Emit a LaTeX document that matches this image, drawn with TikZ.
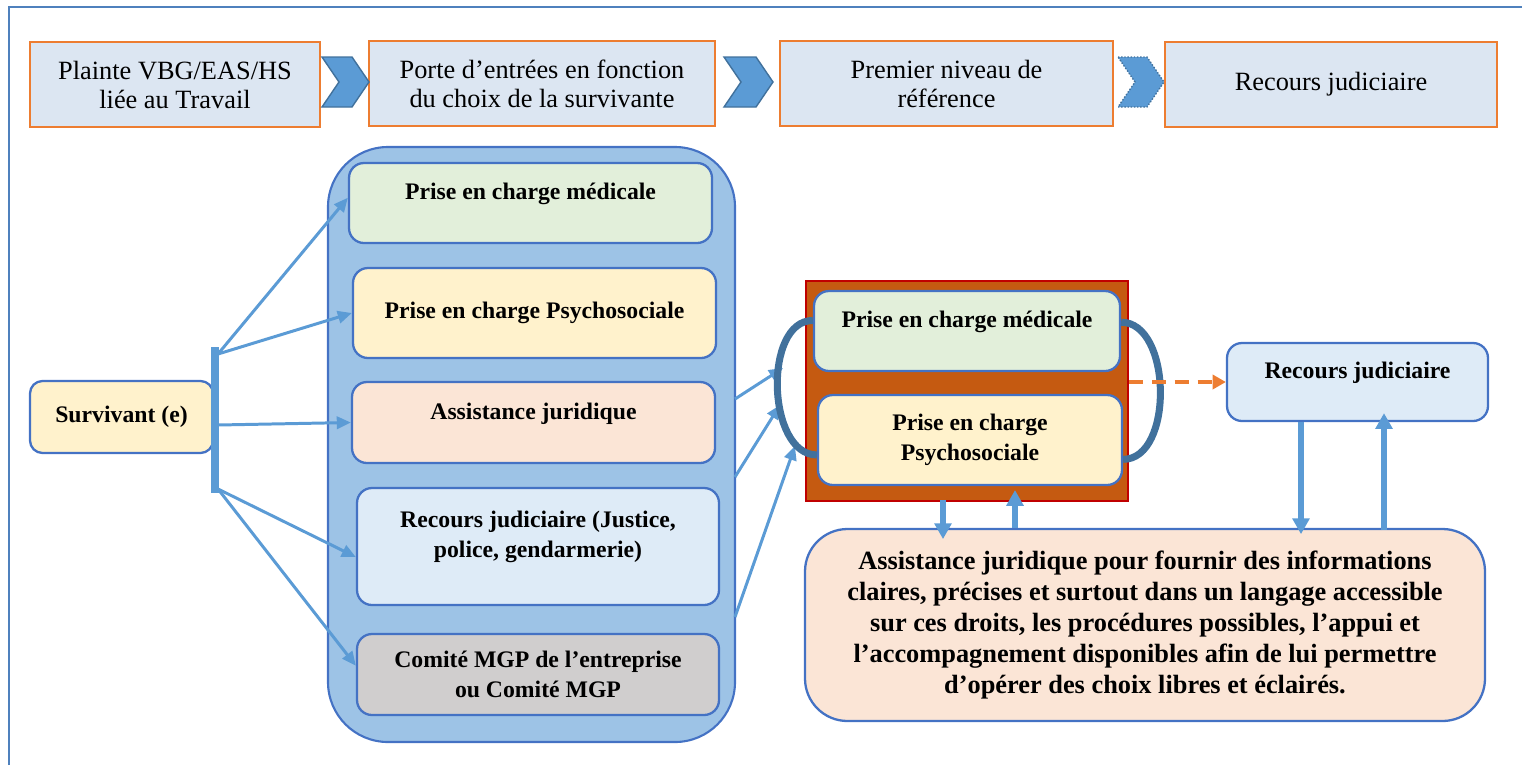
\documentclass[tikz,border=0pt]{standalone}
\usepackage{fontspec}
\setmainfont{Liberation Serif}
\usetikzlibrary{arrows.meta,calc}

\definecolor{cadrebleu}{HTML}{4F81BD}
\definecolor{orangebord}{HTML}{ED7D31}
\definecolor{bleuetape}{HTML}{DCE6F2}
\definecolor{chevronbleu}{HTML}{5B9BD5}
\definecolor{chevronbord}{HTML}{41719C}
\definecolor{bordbleu}{HTML}{4472C4}
\definecolor{fondconteneur}{HTML}{9DC3E6}
\definecolor{vertpale}{HTML}{E2EFDA}
\definecolor{jaunepale}{HTML}{FFF2CC}
\definecolor{pechepale}{HTML}{FBE5D6}
\definecolor{bleupale}{HTML}{DEEBF7}
\definecolor{grispale}{HTML}{D0CECE}
\definecolor{rouille}{HTML}{C55A11}
\definecolor{rougebord}{HTML}{C00000}

\tikzset{
  taille/.style 2 args={minimum width=#1*0.02cm, minimum height=#2*0.02cm},
  cadre/.style={draw=cadrebleu, line width=1.3pt},
  etape/.style={draw=orangebord, fill=bleuetape, line width=1.2pt, align=center,
    font=\fontsize{15}{16.5}\selectfont},
  chevron/.style={fill=chevronbleu, draw=chevronbord, line width=0.8pt},
  boite/.style={draw=bordbleu, line width=1.3pt, rounded corners=0.3cm, align=center,
    font=\bfseries\fontsize{13.5}{17}\selectfont},
  haut/.style={text height=9.5pt, text depth=13pt},
  fleche/.style={draw=chevronbleu, line width=1.7pt, -{Triangle[length=8pt,width=7pt]}},
  flechegr/.style={draw=chevronbleu, line width=3pt, -{Triangle[length=9pt,width=9.5pt]}},
  pointille/.style={draw=orangebord, line width=2.3pt, dash pattern=on 8pt off 5pt,
    -{Triangle[length=7.5pt,width=8pt]}},
  courbe/.style={draw=chevronbord, line width=4pt}
}

\begin{document}
\begin{tikzpicture}[x=0.02cm, y=-0.02cm]
        % Paso 1: Marco y límites de la figura
        \useasboundingbox (0,0) rectangle (1522,765);
        \draw[cadre] (9,765) -- (9,7) -- (1522,7);

        % Paso 2: Etapas de la fila superior
        \node[etape, taille={290}{85}] (E1) at (175,84.5) {Plainte VBG/EAS/HS\\liée au Travail};
        \node[etape, taille={346}{85}] (E2) at (542,83.5) {Porte d’entrées en fonction\\du choix de la survivante};
        \node[etape, taille={333}{85}] (E3) at (946.5,83.5) {Premier niveau de\\référence};
        \node[etape, taille={332}{85}] (E4) at (1331,84.5) {Recours judiciaire};

        % Paso 3: Chevrones entre las etapas
        \foreach \xa/\xb in {322/369, 724/773}
          \filldraw[chevron] (\xa,57) -- (\xb-17,57) -- (\xb,82) -- (\xb-17,107)
            -- (\xa,107) -- (\xa+17,82) -- cycle;
        \filldraw[chevron, densely dotted] (1118,57) -- (1147,57) -- (1164,82) -- (1147,107)
            -- (1118,107) -- (1135,82) -- cycle;

        % Paso 4: Contenedor de las puertas de entrada
        \node[draw=bordbleu, fill=fondconteneur, line width=1.2pt, rounded corners=1.2cm,
          taille={407}{595}] (cont) at (531.5,444.5) {};
        \node[boite, haut, fill=vertpale, taille={363}{80}] (medG) at (530.5,203) {Prise en charge médicale};
        \node[boite, fill=jaunepale, taille={363}{90}] (psyG) at (534.5,313) {Prise en charge Psychosociale};
        \node[boite, haut, fill=pechepale, taille={363}{81}] (jurG) at (533.5,422.5) {Assistance juridique};
        \node[boite, fill=bleupale, taille={362}{117}] (recG) at (538,546.5)
          {\begin{tabular}{@{}c@{}}Recours judiciaire (Justice,\\police, gendarmerie)\\[11pt]\end{tabular}};
        \node[boite, fill=grispale, taille={362}{81}] (comG) at (538,674.5) {Comité MGP de l’entreprise\\ou Comité MGP};

        % Paso 5: Survivant y barra de reparto
        \node[boite, fill=jaunepale, rounded corners=0.25cm, taille={183}{72}] (surv) at (121.5,417) {Survivant (e)};
        \node[fill=chevronbleu, inner sep=0pt, taille={8}{146}] (barre) at (215,420) {};
        \coordinate (bh) at (218,354);
        \coordinate (bm) at (218,425);
        \coordinate (bb) at (218,489);

        % Paso 6: Primer nivel de referencia
        \node[draw=rougebord, fill=rouille, line width=1.2pt, taille={322}{220}] (orange) at (967,391) {};
        \node[boite, haut, fill=vertpale, taille={306}{80}] (medC) at (967,331) {Prise en charge médicale};
        \node[boite, fill=jaunepale, taille={304}{90}] (psyC) at (970,440) {Prise en charge\\Psychosociale};

        % Paso 7: Recours judiciaire y asistencia jurídica
        \node[boite, haut, fill=bleupale, taille={261}{78}] (recD) at (1357.5,382) {Recours judiciaire};
        \node[boite, fill=pechepale, rounded corners=0.85cm, taille={680}{192},
          font=\bfseries\fontsize{15}{17.6}\selectfont] (jurD) at (1145,625)
          {Assistance juridique pour fournir des informations\\
           claires, précises et surtout dans un langage accessible\\
           sur ces droits, les procédures possibles, l’appui et\\
           l’accompagnement disponibles afin de lui permettre\\
           d’opérer des choix libres et éclairés.};

        % Paso 8: Flechas desde la barra
        \draw[fleche] (bh) -- ([yshift=3pt]medG.west);
        \draw[fleche] (bh) -- (psyG.west);
        \draw[fleche] (bm) -- (jurG.west);
        \draw[fleche] (bb) -- ([yshift=-6pt]recG.west);
        \draw[fleche] (bb) -- ([yshift=5pt]comG.west);

        % Paso 9: Flechas hacia el primer nivel
        \coordinate (s1) at (735,399);
        \coordinate (s2) at (735,477);
        \coordinate (s3) at (735,617);
        \coordinate (a1) at (783,368);
        \coordinate (a2) at (780,405);
        \coordinate (a3) at (795,446);
        \draw[fleche] (s1) -- (a1);
        \draw[fleche] (s2) -- (a2);
        \draw[fleche] (s3) -- (a3);

        % Paso 10: Arcos alrededor del primer nivel
        \draw[courbe] ([yshift=6pt]medC.west) to[out=180, in=180, looseness=0.95] ([yshift=-8.5pt]psyC.west);
        \draw[courbe] ([yshift=5pt]medC.east) to[out=0, in=0, looseness=0.95] ([yshift=-11pt]psyC.east);

        % Paso 11: Flecha punteada y flechas verticales
        \draw[pointille] (orange.east |- recD.west) -- (recD.west);
        \draw[flechegr] ($(recD.south)+(-56.5,0)$) -- ($(recD.south)+(-56.5,112)$);
        \draw[flechegr] ($(recD.south)+(26.5,108)$) -- ($(recD.south)+(26.5,-9)$);
        \draw[flechegr] ($(orange.south)+(-24,-2)$) -- ($(orange.south)+(-24,37)$);
        \draw[flechegr] ($(orange.south)+(48,26)$) -- ($(orange.south)+(48,-12)$);
\end{tikzpicture}
\end{document}
